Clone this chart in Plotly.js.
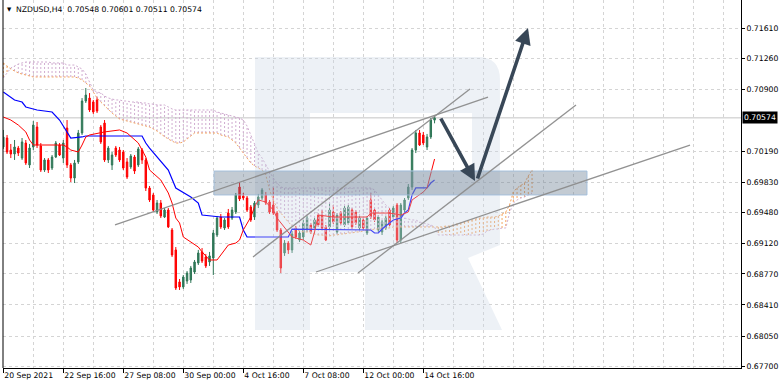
<!DOCTYPE html>
<html><head><meta charset="utf-8">
<script src="https://cdn.plot.ly/plotly-3.0.1.min.js"></script>
<style>html,body{margin:0;padding:0;background:#fff;}#chart{width:782px;height:389px;}</style>
</head><body><div id="chart"></div>
<script>
// ---------------- data ----------------
const symbolTitle = 'NZDUSD,H4';
const titleOHLC = ['0.70548', '0.70601', '0.70511', '0.70574'];
const tickBars = [0, 16, 32, 48, 64, 80, 96, 112];
const tickLabels = ['20 Sep 2021', '22 Sep 16:00', '27 Sep 08:00', '30 Sep 00:00', '4 Oct 16:00', '7 Oct 08:00', '12 Oct 00:00', '14 Oct 16:00'];
const priceTicks = [0.67700, 0.68050, 0.68410, 0.68770, 0.69120, 0.69480, 0.69830, 0.70190, 0.70900, 0.71260, 0.71610];
const lastPrice = 0.70574;

const open = [0.70237,0.70341,0.70202,0.70156,0.70225,0.70109,0.70283,0.70029,0.70237,0.70468,
0.70249,0.69971,0.70087,0.69994,0.70121,0.70260,0.70109,0.70456,0.70029,0.69878,
0.70064,0.70399,0.70769,0.70803,0.70758,0.70781,0.70468,0.70514,0.70087,0.70029,
0.70225,0.70202,0.70179,0.70064,0.70006,0.70121,0.70029,0.70202,0.70087,0.69762,
0.69682,0.69485,0.69589,0.69427,0.69508,0.69277,0.69046,0.68676,0.68618,0.68687,
0.68699,0.68791,0.68895,0.69023,0.68965,0.68907,0.68953,0.69219,0.69427,0.69300,
0.69473,0.69415,0.69485,0.69774,0.69671,0.69647,0.69543,0.69427,0.69566,0.69647,
0.69682,0.69601,0.69566,0.69473,0.69277,0.69011,0.69126,0.69046,0.69300,0.69161,
0.69196,0.69277,0.69335,0.69300,0.69450,0.69450,0.69312,0.69312,0.69485,0.69254,
0.69473,0.69335,0.69358,0.69508,0.69485,0.69300,0.69393,0.69242,0.69624,0.69508,
0.69277,0.69254,0.69300,0.69508,0.69427,0.69566,0.69161,0.69508,0.69647,0.69774,
0.70202,0.70399,0.70376,0.70237,0.70353,0.70548];
const high = [0.70434,0.70376,0.70272,0.70318,0.70249,0.70341,0.70318,0.70272,0.70537,0.70526,
0.70283,0.70109,0.70109,0.70144,0.70306,0.70283,0.70318,0.70549,0.70052,0.70087,
0.70434,0.70803,0.70919,0.70861,0.70781,0.70815,0.70491,0.70549,0.70249,0.70179,
0.70249,0.70237,0.70202,0.70109,0.70156,0.70144,0.70237,0.70225,0.70109,0.69786,
0.69705,0.69624,0.69624,0.69531,0.69531,0.69300,0.69080,0.68710,0.68756,0.68802,
0.68861,0.68930,0.69046,0.69068,0.69000,0.69023,0.69277,0.69439,0.69462,0.69415,
0.69520,0.69543,0.69705,0.69832,0.69705,0.69671,0.69566,0.69612,0.69694,0.69762,
0.69717,0.69624,0.69774,0.69496,0.69300,0.69161,0.69149,0.69265,0.69324,0.69265,
0.69393,0.69439,0.69358,0.69415,0.69473,0.69508,0.69335,0.69589,0.69566,0.69473,
0.69496,0.69555,0.69566,0.69531,0.69508,0.69439,0.69415,0.69439,0.69705,0.69531,
0.69450,0.69393,0.69439,0.69531,0.69555,0.69589,0.69589,0.69647,0.69809,0.70225,
0.70434,0.70434,0.70411,0.70388,0.70572,0.70601];
const low = [0.70214,0.70156,0.70109,0.70087,0.70133,0.70087,0.70029,0.69994,0.70202,0.70225,
0.69948,0.69948,0.69936,0.69971,0.70109,0.70133,0.70052,0.69994,0.69832,0.69820,
0.70041,0.70376,0.70746,0.70642,0.70619,0.70630,0.70272,0.70064,0.70052,0.69971,
0.70121,0.70064,0.69971,0.69867,0.69983,0.69925,0.70006,0.70041,0.69728,0.69601,
0.69485,0.69462,0.69415,0.69415,0.69300,0.68965,0.68583,0.68583,0.68595,0.68653,
0.68664,0.68768,0.68872,0.68895,0.68837,0.68861,0.68756,0.69196,0.69289,0.69277,
0.69289,0.69393,0.69462,0.69612,0.69624,0.69485,0.69370,0.69393,0.69531,0.69624,
0.69566,0.69462,0.69450,0.69254,0.68779,0.68977,0.69000,0.69011,0.69173,0.69138,
0.69161,0.69254,0.69231,0.69277,0.69312,0.69277,0.69149,0.69289,0.69347,0.69231,
0.69335,0.69312,0.69335,0.69289,0.69335,0.69277,0.69277,0.69219,0.69404,0.69370,
0.69254,0.69219,0.69277,0.69312,0.69404,0.69126,0.69126,0.69485,0.69624,0.69740,
0.70167,0.70249,0.70260,0.70202,0.70330,0.70511];
const close = [0.70353,0.70179,0.70156,0.70237,0.70167,0.70295,0.70052,0.70225,0.70491,0.70260,
0.69971,0.70087,0.69971,0.70121,0.70283,0.70144,0.70283,0.70029,0.69878,0.70052,
0.70399,0.70769,0.70838,0.70665,0.70642,0.70653,0.70295,0.70087,0.70225,0.70144,
0.70144,0.70087,0.69994,0.69890,0.70133,0.69959,0.70214,0.70087,0.69762,0.69624,
0.69508,0.69589,0.69439,0.69508,0.69312,0.68988,0.68606,0.68618,0.68733,0.68779,
0.68837,0.68907,0.69011,0.68918,0.68861,0.68977,0.69242,0.69415,0.69312,0.69393,
0.69312,0.69508,0.69682,0.69636,0.69647,0.69508,0.69393,0.69589,0.69659,0.69740,
0.69589,0.69485,0.69473,0.69277,0.68837,0.69126,0.69046,0.69231,0.69196,0.69242,
0.69358,0.69415,0.69254,0.69393,0.69335,0.69300,0.69161,0.69508,0.69370,0.69450,
0.69358,0.69531,0.69543,0.69312,0.69358,0.69415,0.69300,0.69415,0.69427,0.69393,
0.69427,0.69370,0.69415,0.69335,0.69531,0.69161,0.69566,0.69624,0.69774,0.70202,
0.70399,0.70260,0.70283,0.70353,0.70549,0.70574];

// Ichimoku: Tenkan-sen (red) and Kijun-sen (blue), vertices read at bar indices
const tenkanBars = [0,2,4,6,7,8,16,17,18,20,21,22,23,27,31,33,36,38,39,42,44,45,46,47,48,50,52,53,55,57,58,60,62,63,64,66,67,68,70,72,73,75,77,80,82,83,84,88,97,98,103,106,108,109,112,113,114,115];
const tenkanValues = [0.70584,0.70549,0.70491,0.70411,0.70318,0.70260,0.70260,0.70237,0.70202,0.70179,0.70260,0.70353,0.70376,0.70411,0.70434,0.70399,0.70283,0.70121,0.69971,0.69855,0.69705,0.69589,0.69415,0.69358,0.69196,0.69138,0.69080,0.69023,0.68930,0.68930,0.68988,0.69103,0.69126,0.69161,0.69277,0.69427,0.69543,0.69624,0.69601,0.69508,0.69415,0.69300,0.69196,0.69161,0.69103,0.69254,0.69450,0.69427,0.69427,0.69473,0.69473,0.69450,0.69485,0.69624,0.69716,0.69763,0.69936,0.70098];
const kijunBars = [0,3,5,6,9,13,15,17,18,21,22,37,38,39,44,46,50,52,53,58,63,64,65,76,77,98,99,100,101,104,106,107,108,109,110,113,114,115];
const kijunValues = [0.70873,0.70781,0.70757,0.70700,0.70665,0.70642,0.70549,0.70411,0.70341,0.70353,0.70364,0.70364,0.70283,0.70225,0.69971,0.69763,0.69659,0.69589,0.69450,0.69427,0.69427,0.69277,0.69196,0.69196,0.69288,0.69277,0.69242,0.69242,0.69288,0.69393,0.69415,0.69473,0.69508,0.69682,0.69763,0.69763,0.69820,0.69855];
// Senkou Span A (sandy) and Span B (thistle), one value per bar 0..141 (cloud shifted 26 bars ahead)
const spanA = [0.71209,0.71174,0.71139,0.71116,0.71093,0.71081,0.71070,0.71058,
0.71047,0.71047,0.71047,0.71047,0.71047,0.71047,0.71047,0.71047,0.71047,0.71047,0.71047,0.71047,
0.71035,0.71012,0.70977,0.70943,0.70873,0.70804,0.70757,0.70711,
0.70665,0.70630,0.70595,0.70561,0.70549,0.70538,0.70526,0.70515,
0.70503,0.70491,0.70480,0.70468,0.70445,0.70422,0.70387,0.70353,
0.70329,0.70306,0.70283,0.70283,0.70295,0.70329,0.70364,
0.70399,0.70399,0.70399,0.70399,0.70399,0.70399,0.70399,
0.70376,0.70364,0.70353,0.70318,0.70283,0.70225,0.70167,0.70110,
0.70052,0.70017,0.69994,0.69971,0.69913,0.69740,0.69624,0.69531,
0.69473,0.69415,0.69370,0.69323,0.69288,0.69265,0.69254,0.69254,
0.69242,0.69231,0.69219,0.69219,0.69208,0.69208,0.69219,0.69219,
0.69231,0.69231,0.69242,0.69242,0.69254,0.69254,0.69265,0.69277,
0.69277,0.69288,0.69288,0.69300,0.69300,0.69300,
0.69312,0.69312,0.69312,0.69312,0.69312,0.69312,0.69312,0.69312,0.69312,0.69312,0.69312,0.69312,0.69312,0.69312,
0.69323,0.69323,0.69335,0.69346,0.69358,0.69370,0.69381,0.69393,0.69404,0.69415,
0.69415,0.69427,0.69427,0.69427,0.69438,0.69462,0.69485,
0.69566,0.69716,0.69763,0.69797,0.69820,0.69902,0.69971];
const spanB = [0.71035,0.71093,0.71151,0.71174,0.71197,0.71209,
0.71220,0.71220,0.71220,0.71220,0.71220,0.71220,0.71220,
0.71209,0.71209,0.71209,0.71209,
0.71185,0.71185,0.71185,
0.71162,0.71139,0.71081,0.70989,0.70896,0.70873,0.70862,0.70827,0.70804,
0.70792,0.70781,0.70781,0.70769,0.70769,0.70757,0.70757,0.70757,0.70746,0.70746,0.70734,0.70734,
0.70723,0.70723,0.70723,
0.70700,0.70677,
0.70665,0.70665,0.70665,0.70665,0.70665,0.70665,0.70665,0.70665,0.70665,0.70665,0.70665,
0.70642,0.70630,0.70619,0.70607,0.70595,0.70584,0.70572,0.70549,
0.70480,0.70376,0.70260,0.70167,0.70110,0.70029,0.69948,0.69878,0.69820,0.69774,
0.69763,0.69763,0.69763,0.69763,0.69763,0.69763,0.69763,0.69763,0.69763,0.69763,0.69763,0.69763,
0.69763,0.69763,0.69763,0.69763,0.69763,0.69763,0.69763,0.69763,0.69763,0.69763,0.69763,0.69763,
0.69740,0.69682,0.69624,0.69566,0.69531,0.69485,0.69462,0.69438,0.69415,0.69404,0.69393,0.69393,0.69370,0.69358,0.69346,0.69335,0.69312,
0.69219,0.69219,0.69219,0.69219,0.69219,0.69219,0.69219,0.69219,0.69219,0.69219,0.69219,0.69219,
0.69231,0.69265,0.69277,0.69288,0.69288,0.69300,0.69300,
0.69473,0.69589,0.69624,0.69647,0.69659,0.69682,0.69705];

// analyst drawings, in (bar index, price)
const zoneBars = [56.2, 155.65];
const zonePrices = [0.69682, 0.69959];
const trendLines = [
  [29.79, 0.69335, 129.25, 0.70815],
  [66.59, 0.68965, 124.45, 0.70908],
  [83.39, 0.68791, 183.12, 0.70260],
  [94.59, 0.68780, 152.72, 0.70723]
];
const forecastDown = [116.45, 0.70584, 125.79, 0.69844];
const forecastUp = [126.32, 0.69855, 139.92, 0.71613];

// ---------------- drawing ----------------
const FONT = 'DejaVu Sans';
const bars = open.map((_, i) => i);
const cloudBars = spanA.map((_, i) => i);
const plotL = 3, plotR = 741, plotT = 0, plotB = 368;
const px = x => (x - plotL) / (plotR - plotL);
const py = y => (plotB - y) / (plotB - plotT);

// cloud hatch: one dotted vertical per bar, colour by which span is on top
const hx = {up: [], dn: []}, hy = {up: [], dn: []};
spanA.forEach((a, i) => {
  const k = a >= spanB[i] ? 'up' : 'dn';
  hx[k].push(i, i, null); hy[k].push(a, spanB[i], null);
});
const SANDY = '#f4a460', THISTLE = '#d0acd0';
const traces = [
  {type: 'scatter', mode: 'lines', x: hx.dn, y: hy.dn, line: {color: THISTLE, width: 1, dash: '2px,2px'}, hoverinfo: 'skip'},
  {type: 'scatter', mode: 'lines', x: hx.up, y: hy.up, line: {color: SANDY, width: 1, dash: '2px,2px'}, hoverinfo: 'skip'},
  {type: 'scatter', mode: 'lines', x: cloudBars, y: spanB, line: {color: THISTLE, width: 1, dash: '2px,2px'}, hoverinfo: 'skip'},
  {type: 'scatter', mode: 'lines', x: cloudBars, y: spanA, line: {color: SANDY, width: 1, dash: '2px,2px'}, hoverinfo: 'skip'},
  {type: 'candlestick', x: bars, open: open, high: high, low: low, close: close,
   increasing: {line: {color: '#2f7757', width: 1}, fillcolor: '#2f7757'},
   decreasing: {line: {color: '#ff0000', width: 1}, fillcolor: '#ff0000'},
   whiskerwidth: 0, hoverinfo: 'skip'},
  {type: 'scatter', mode: 'lines', x: kijunBars, y: kijunValues, line: {color: '#0000ff', width: 1.2}, hoverinfo: 'skip'},
  {type: 'scatter', mode: 'lines', x: tenkanBars, y: tenkanValues, line: {color: '#ff0000', width: 1}, hoverinfo: 'skip'}
];

const GRID = '#d4d4d4';
const minorGrid = [];
for (let b = 8; b <= 196; b += 8) if (!tickBars.includes(b)) minorGrid.push(b);

// watermark "R" (decoration), pixel outline converted to paper units
const P = (x, y) => px(x).toFixed(4) + ',' + py(y).toFixed(4);
const rPath = 'M' + P(255,57) + 'L' + P(478,57) + 'Q' + P(500,57) + ' ' + P(500,80) + 'L' + P(500,245) +
  'L' + P(468,258) + 'L' + P(502,330) + 'L' + P(365,330) + 'L' + P(365,272) + 'L' + P(310,272) + 'L' + P(310,330) +
  'L' + P(255,330) + 'Z' + 'M' + P(310,113) + 'L' + P(472,113) + 'L' + P(472,170) + 'L' + P(310,170) + 'Z';

const shapes = [
  {type: 'line', xref: 'paper', yref: 'y', x0: 0, x1: 1, y0: lastPrice, y1: lastPrice, line: {color: '#c4c4c4', width: 1}, layer: 'below'},
  {type: 'path', xref: 'paper', yref: 'paper', path: rPath, fillcolor: 'rgba(200,211,228,0.33)', line: {width: 0}, layer: 'above'},
  {type: 'rect', xref: 'x', yref: 'y', x0: zoneBars[0], x1: zoneBars[1], y0: zonePrices[0], y1: zonePrices[1],
   fillcolor: 'rgba(105,125,145,0.4)', line: {color: 'rgba(160,190,220,0.9)', width: 1}, layer: 'above'},
  {type: 'line', xref: 'paper', yref: 'paper', x0: 0, x1: 0, y0: 0, y1: 1, line: {color: '#000', width: 1}, layer: 'above'}
];
trendLines.forEach(t => shapes.push({type: 'line', xref: 'x', yref: 'y', x0: t[0], y0: t[1], x1: t[2], y1: t[3],
  line: {color: 'rgba(140,140,140,0.95)', width: 1.3}, layer: 'above'}));

const ARROW = '#384757';
const annotations = [
  {xref: 'paper', yref: 'paper', x: px(5), y: py(9), xanchor: 'left', yanchor: 'middle', showarrow: false,
   text: '\u25BC', font: {family: FONT, size: 5.5, color: '#000'}},
  {xref: 'paper', yref: 'paper', x: px(14), y: py(9), xanchor: 'left', yanchor: 'middle', showarrow: false,
   text: symbolTitle + '\u00a0\u00a0' + titleOHLC.join(' '), font: {family: FONT, size: 7.7, color: '#000'}},
  {xref: 'paper', yref: 'y', x: 1, y: lastPrice, xanchor: 'left', yanchor: 'middle', xshift: 1, showarrow: false,
   text: lastPrice.toFixed(5), bgcolor: '#000', borderpad: 1, font: {family: FONT, size: 7.7, color: '#fff'}},
  {xref: 'x', yref: 'y', axref: 'x', ayref: 'y', x: forecastDown[2], y: forecastDown[3], ax: forecastDown[0], ay: forecastDown[1],
   text: '', showarrow: true, arrowhead: 2, arrowsize: 0.9, arrowwidth: 3.6, arrowcolor: ARROW, standoff: 0},
  {xref: 'x', yref: 'y', axref: 'x', ayref: 'y', x: forecastUp[2], y: forecastUp[3], ax: forecastUp[0], ay: forecastUp[1],
   text: '', showarrow: true, arrowhead: 2, arrowsize: 0.9, arrowwidth: 3.6, arrowcolor: ARROW, standoff: 0}
];

const layout = {
  width: 782, height: 389,
  margin: {l: plotL, r: 782 - plotR, t: plotT, b: 389 - plotB},
  paper_bgcolor: '#fff', plot_bgcolor: '#fff', showlegend: false,
  boxgap: 0.45,
  xaxis: {range: [-0.08, 196.72], tickmode: 'array', tickvals: tickBars, ticktext: tickLabels,
    ticks: 'outside', ticklen: 4, tickcolor: '#000', tickwidth: 1, ticklabelposition: 'outside right', tickangle: 0,
    showline: true, linecolor: '#000', linewidth: 1, zeroline: false,
    showgrid: true, gridcolor: GRID, griddash: '3px,3px', gridwidth: 1,
    minor: {tickmode: 'array', tickvals: minorGrid, showgrid: true, gridcolor: GRID, griddash: '3px,3px', gridwidth: 1, ticks: ''},
    rangeslider: {visible: false}, fixedrange: true, automargin: false,
    tickfont: {family: FONT, size: 7.7, color: '#000'}},
  yaxis: {side: 'right', range: [0.676806, 0.719373], tickmode: 'array', tickvals: priceTicks,
    ticktext: priceTicks.map(v => v.toFixed(5)), automargin: false,
    ticks: 'outside', ticklen: 3, tickcolor: '#000', showline: true, linecolor: '#000', linewidth: 1, zeroline: false,
    showgrid: true, gridcolor: GRID, griddash: '3px,3px', gridwidth: 1, fixedrange: true,
    tickfont: {family: FONT, size: 7.7, color: '#000'}},
  shapes: shapes, annotations: annotations
};

Plotly.newPlot('chart', traces, layout, {staticPlot: true, displayModeBar: false});
</script>
</body></html>
